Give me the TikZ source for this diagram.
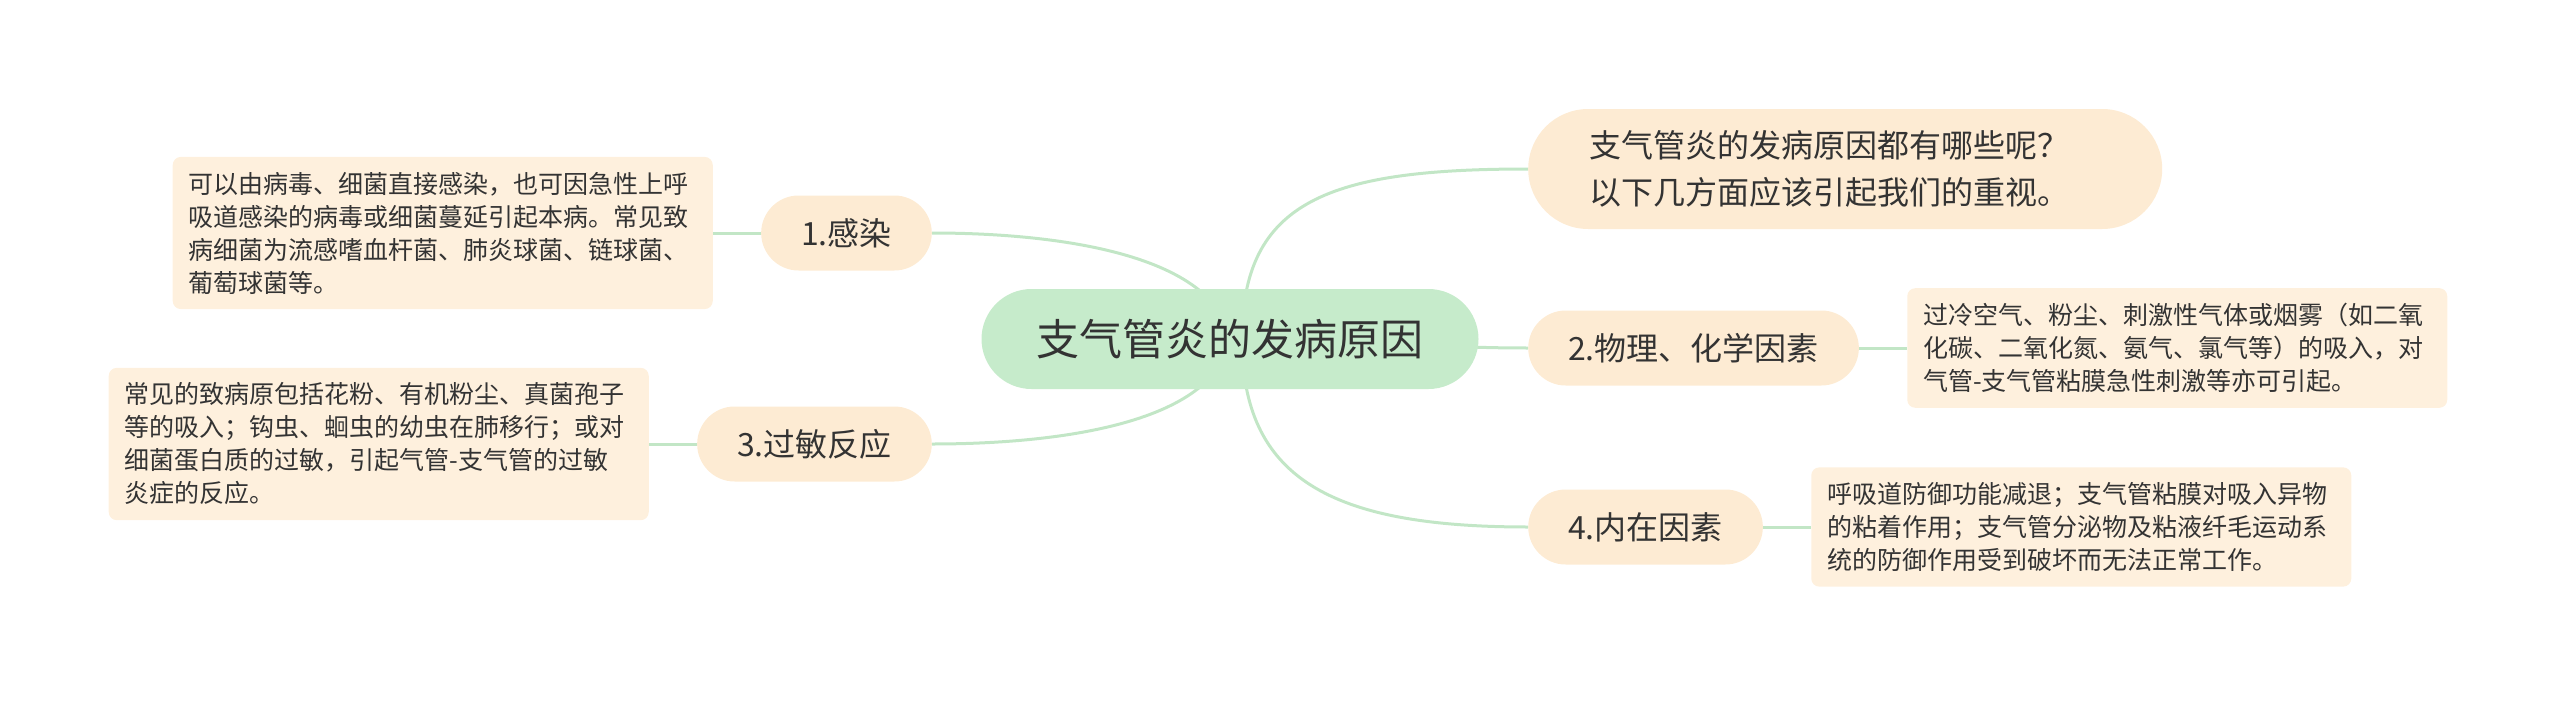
\documentclass[tikz,border=0pt]{standalone}
\usepackage{fontspec}
\setmainfont{Noto Sans CJK SC}
\usetikzlibrary{positioning,backgrounds}
\definecolor{rootgreen}{HTML}{C6EBCB}
\definecolor{peach}{HTML}{FDEBD3}
\definecolor{notefill}{HTML}{FEF0DD}
\definecolor{linkgreen}{HTML}{C2E6C6}
\definecolor{inkgray}{HTML}{333333}
\tikzset{
  rootnode/.style ={rectangle, rounded corners=50pt, fill=rootgreen, minimum height=100pt,
                    inner xsep=55pt, text=inkgray, font=\fontsize{43}{50}\selectfont},
  topicnode/.style={rectangle, rounded corners=60pt, fill=peach, minimum height=120pt,
                    text width=512pt, inner xsep=61pt, align=left, text=inkgray,
                    font=\fontsize{32}{47}\selectfont},
  branch/.style   ={rectangle, rounded corners=37.5pt, fill=peach, minimum height=75pt,
                    inner xsep=40pt, text=inkgray, font=\fontsize{32}{40}\selectfont},
  notebox/.style  ={rectangle, rounded corners=8pt, fill=notefill, text width=508pt,
                    inner xsep=16pt, inner ysep=15pt, align=left, text=inkgray,
                    font=\fontsize{25}{33}\selectfont},
  link/.style     ={draw=linkgreen, line width=3pt}
}

\begin{document}
\begin{tikzpicture}[x=1pt, y=-1pt, node distance=48pt]
  \useasboundingbox (0,0) rectangle (2560,701);
  \node[rootnode]                           (root)    at (1230,339) {支气管炎的发病原因};
  \node[topicnode, anchor=west]             (topic)   at (1528,169)
    {支气管炎的发病原因都有哪些呢？\\以下几方面应该引起我们的重视。};
  \node[branch, anchor=west]                (phys)    at (1528,348) {2.物理、化学因素};
  \node[branch, anchor=west]                (inner)   at (1528,527) {4.内在因素};
  \node[branch, anchor=east]                (infect)  at (932,233)  {1.感染};
  \node[branch, anchor=east]                (allergy) at (932,444)  {3.过敏反应};
  \node[notebox, left=of infect]            (infectnote)
    {可以由病毒、细菌直接感染，也可因急性上呼\\吸道感染的病毒或细菌蔓延引起本病。常见致\\病细菌为流感嗜血杆菌、肺炎球菌、链球菌、\\葡萄球菌等。};
  \node[notebox, left=of allergy]           (allergynote)
    {常见的致病原包括花粉、有机粉尘、真菌孢子\\等的吸入；钩虫、蛔虫的幼虫在肺移行；或对\\细菌蛋白质的过敏，引起气管-支气管的过敏\\炎症的反应。};
  \node[notebox, right=of phys]             (physnote)
    {过冷空气、粉尘、刺激性气体或烟雾（如二氧\\化碳、二氧化氮、氨气、氯气等）的吸入，对\\气管-支气管粘膜急性刺激等亦可引起。};
  \node[notebox, right=of inner]            (innernote)
    {呼吸道防御功能减退；支气管粘膜对吸入异物\\的粘着作用；支气管分泌物及粘液纤毛运动系\\统的防御作用受到破坏而无法正常工作。};
  % connectors behind the nodes
  \begin{scope}[on background layer]
    \draw[link] (root.center) ++(12,0) .. controls (1242,200) and (1330,169) .. (topic.west);
    \draw[link] (root.center) ++(12,0) .. controls (1242,478) and (1330,527) .. (inner.west);
    \draw[link] (root.center) .. controls (1400,339) and (1420,348) .. (phys.west);
    \draw[link] (root.center) .. controls (1215,255) and (1060,233) .. (infect.east);
    \draw[link] (root.center) .. controls (1215,423) and (1060,444) .. (allergy.east);
    \draw[link] (infect.west)  -- (infectnote.east);
    \draw[link] (allergy.west) -- (allergynote.east);
    \draw[link] (phys.east)    -- (physnote.west);
    \draw[link] (inner.east)   -- (innernote.west);
  \end{scope}
\end{tikzpicture}
\end{document}
